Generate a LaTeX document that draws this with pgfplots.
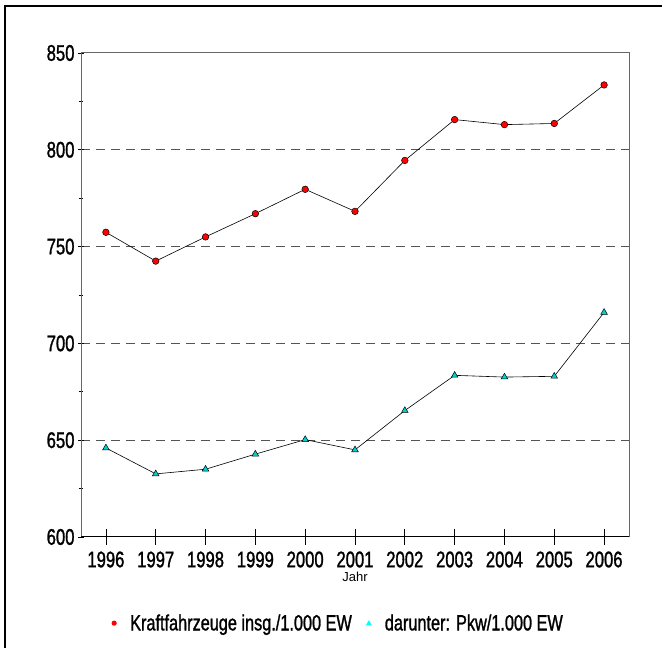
\documentclass[border=0pt]{standalone}
\usepackage{pgfplots}
\pgfplotsset{compat=1.18}
\usepackage{fontspec}
\setmainfont{Liberation Sans}[FakeStretch=0.74, FakeBold=1.2]
\newfontfamily\plainfont{Liberation Sans}
\definecolor{gridgray}{HTML}{555555}
\definecolor{axgray}{HTML}{666666}
\definecolor{tri}{HTML}{00D2D2}
\definecolor{trileg}{HTML}{00FFFF}
\begin{document}
\begin{tikzpicture}
\useasboundingbox (0,0) rectangle (662pt,648pt);
\fill[white] (0,0) rectangle (662pt,648pt);
\draw[line width=2pt,black] (5pt,0pt) -- (5pt,642pt) -- (662pt,642pt);
\begin{axis}[
  at={(81pt,111pt)}, anchor=south west,
  scale only axis, width=548pt, height=484pt,
  xmin=1995.5, xmax=2006.5, ymin=600, ymax=850,
  xtick={1996,...,2006},
  ytick={600,650,...,850},
  minor y tick num=1,
  xtick pos=bottom, ytick pos=left,
  tick align=center,
  major tick length=6pt, minor tick length=5pt,
  xtick style={/pgfplots/major tick length=16pt, black, line width=0.8pt},
  ytick style={black, line width=0.8pt},
  xticklabel style={/pgf/number format/1000 sep={}, font=\fontsize{22.5}{22.5}\selectfont, yshift=-8pt},
  yticklabel style={font=\fontsize{22.5}{22.5}\selectfont},
  /pgf/number format/assume math mode=true,
  axis line style={axgray, line width=1pt},
  ymajorgrids,
  grid style={gridgray, line width=1pt, dash pattern=on 9pt off 6pt},
  xlabel={Jahr},
  xlabel style={font=\plainfont\fontsize{13}{13}\selectfont, at={(axis description cs:0.5,-0.0826)}, anchor=center},
  legend columns=2,
  legend style={draw=none, fill=none, at={(axis description cs:0.469,-0.178)}, anchor=center,
    font=\fontsize{22}{22}\selectfont,
    /tikz/every even column/.append style={column sep=12pt},
    nodes={inner xsep=2pt}},
  clip=false,
]
\addplot[black, line width=0.6pt, mark=*, mark size=3.3pt,
  mark options={fill=red, draw=black, line width=0.5pt},
  legend image code/.code={\fill[red, draw=none] (0pt,0pt) circle (2.6pt); \path[draw=none, fill=none] (-3pt,0pt) -- (14pt,0pt);}]
  coordinates {(1996,757.4) (1997,742.5) (1998,755) (1999,767) (2000,779.6) (2001,768.2)
  (2002,794.5) (2003,815.6) (2004,813) (2005,813.6) (2006,833.5)};
\addlegendentry{Kraftfahrzeuge insg./1.000 EW}
\addplot[black, line width=0.6pt, mark=triangle*, mark size=3.8pt,
  mark options={fill=tri, draw=black, line width=0.5pt},
  legend image code/.code={\fill[trileg, draw=none] (0pt,3pt) -- (-3pt,-2.2pt) -- (3pt,-2.2pt) -- cycle; \path[draw=none, fill=none] (-3pt,0pt) -- (14pt,0pt);}]
  coordinates {(1996,646) (1997,632.6) (1998,635) (1999,642.8) (2000,650.3) (2001,645)
  (2002,665.3) (2003,683.5) (2004,682.6) (2005,683) (2006,716)};
\addlegendentry{darunter: Pkw/1.000 EW}
\draw[black, line width=1pt] (rel axis cs:0,0) -- (rel axis cs:1,0);
\end{axis}
\end{tikzpicture}
\end{document}
